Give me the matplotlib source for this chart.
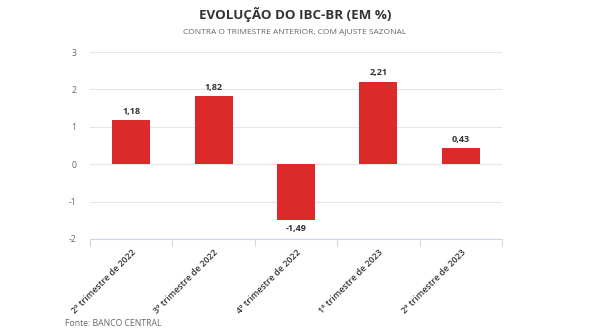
import matplotlib.pyplot as plt
from matplotlib.ticker import FixedLocator

plt.rcParams['font.family'] = ['Open Sans', 'DejaVu Sans']

categorias = ['2º trimestre de 2022', '3º trimestre de 2022', '4º trimestre de 2022',
              '1º trimestre de 2023', '2º trimestre de 2023']
valores = [1.18, 1.82, -1.49, 2.21, 0.43]
rotulos = ['1,18', '1,82', '-1,49', '2,21', '0,43']
yticks = [-2, -1, 0, 1, 2, 3]

fig = plt.figure(figsize=(5.9, 3.3), dpi=100)
ax = fig.add_axes([0.1525, 0.2758, 0.6985, 0.5666])

x = list(range(len(categorias)))
ax.bar(x, valores, width=0.46, color='#dc2a2a', zorder=3)

for xi, v, r in zip(x, valores, rotulos):
    if v >= 0:
        ax.text(xi, v + 0.12, r, ha='center', va='bottom', fontsize=6.5,
                fontweight='bold', color='#333333')
    else:
        ax.text(xi, v - 0.12, r, ha='center', va='top', fontsize=6.5,
                fontweight='bold', color='#333333')

ax.set_xlim(-0.5, len(categorias) - 0.5)
ax.set_ylim(-2, 3)
ax.set_yticks(yticks)
ax.set_yticklabels([str(t) for t in yticks], fontsize=6.2, color='#666666')
ax.tick_params(axis='y', length=0, pad=10)
ax.grid(axis='y', color='#e6e6e6', linewidth=0.8, zorder=0)

ax.set_xticks(x)
ax.set_xticklabels(categorias, rotation=45, ha='right', rotation_mode='anchor',
                   fontsize=6.4, color='#333333', fontweight='semibold')
ax.tick_params(axis='x', length=0, pad=6)
ax.xaxis.set_minor_locator(FixedLocator([i - 0.5 for i in range(len(categorias) + 1)]))
ax.tick_params(axis='x', which='minor', length=5, color='#ccd6eb', width=0.8)

for s in ['top', 'right', 'left']:
    ax.spines[s].set_visible(False)
ax.spines['bottom'].set_color('#ccd6eb')
ax.spines['bottom'].set_linewidth(0.8)

fig.text(0.5, 0.957, 'EVOLUÇÃO DO IBC-BR (EM %)', ha='center', va='center',
         fontsize=9.6, fontweight='bold', color='#333333')
fig.text(0.5, 0.905, 'CONTRA O TRIMESTRE ANTERIOR, COM AJUSTE SAZONAL', ha='center',
         va='center', fontsize=6, color='#666666')
fig.text(0.11, 0.02, 'Fonte: BANCO CENTRAL', ha='left', va='center',
         fontsize=6.2, color='#666666')

fig.savefig('out.png', dpi=100, facecolor='white')
